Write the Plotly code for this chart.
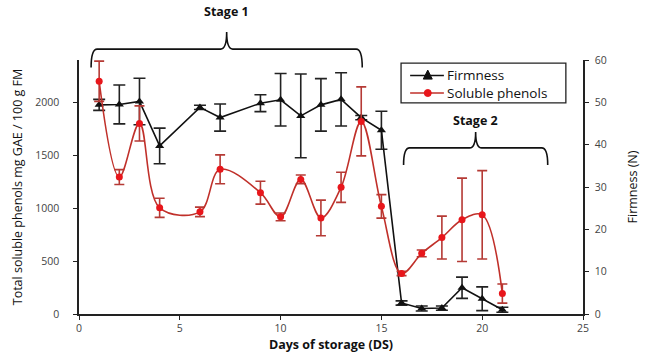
import plotly.graph_objects as go

days = [1, 2, 3, 4, 6, 7, 9, 10, 11, 12, 13, 14, 15, 16, 17, 18, 19, 20, 21]
firmness = [49.4, 49.5, 50.2, 39.7, 48.8, 46.4, 49.8, 50.6, 46.8, 49.4, 50.7, 46.4, 43.4, 2.6, 1.3, 1.4, 6.2, 3.6, 1.0]
firmness_err = [1.3, 4.6, 5.5, 4.2, 0.5, 3.2, 2.0, 6.2, 9.9, 6.2, 6.3, 0.5, 4.5, 0.5, 0.6, 0.5, 2.5, 2.8, 0.6]
phenols = [2199, 1294, 1801, 1003, 965, 1367, 1146, 918, 1272, 908, 1197, 1820, 1017, 383, 573, 722, 890, 937, 193]
phenols_err = [190, 70, 166, 90, 45, 137, 108, 37, 41, 168, 142, 326, 111, 20, 32, 203, 394, 418, 90]

x_ticks = [0, 5, 10, 15, 20, 25]
left_ticks = [0, 500, 1000, 1500, 2000]
right_ticks = [0, 10, 20, 30, 40, 50, 60]

series_names = ["Firmness", "Soluble phenols"]
stages = ["Stage 1", "Stage 2"]
stage_start = [0.6, 16.1]
stage_end = [14.05, 23.25]
# (arm bottom, bar, tip, label centre) in paper fractions
stage_levels = [(0.97, 1.043, 1.11, 1.19), (0.587, 0.654, 0.717, 0.762)]

FONT = "Open Sans"
BLACK = "#111111"
RED_LINE = "#c0302a"
RED_MARK = "#e8161b"

fig = go.Figure()
fig.add_trace(go.Scatter(
    x=days, y=firmness, name=series_names[0], yaxis="y",
    mode="lines+markers",
    line=dict(color=BLACK, width=1.6),
    marker=dict(symbol="triangle-up", size=8, color=BLACK),
    error_y=dict(type="data", array=firmness_err, color="#222222", thickness=1.6, width=6),
))
fig.add_trace(go.Scatter(
    x=days, y=phenols, name=series_names[1], yaxis="y2",
    mode="lines+markers",
    line=dict(color=RED_LINE, width=1.6, shape="spline", smoothing=1.0),
    marker=dict(symbol="circle", size=7, color=RED_MARK),
    error_y=dict(type="data", array=phenols_err, color="#b53a35", thickness=1.6, width=5),
))

shapes = []
annotations = []
for name, x0, x1, (yl, yt, yp, ytxt) in zip(stages, stage_start, stage_end, stage_levels):
    xc = (x0 + x1) / 2
    dx = 0.3
    path = (f"M {x0},{yl} Q {x0},{yt} {x0+dx},{yt} L {xc-dx},{yt} "
            f"Q {xc},{yt} {xc},{yp} Q {xc},{yt} {xc+dx},{yt} "
            f"L {x1-dx},{yt} Q {x1},{yt} {x1},{yl}")
    shapes.append(dict(type="path", xref="x", yref="paper", path=path,
                       line=dict(color=BLACK, width=1.6)))
    annotations.append(dict(x=xc, y=ytxt, xref="x", yref="paper", text=f"<b>{name}</b>",
                            showarrow=False, yanchor="middle",
                            font=dict(family=FONT, size=12.5, color=BLACK)))

# custom legend (compact, like the reference)
PW, PH = 504.0, 254.0  # plot area size in px
shapes.append(dict(type="rect", xref="paper", yref="paper", x0=0.639, x1=0.966, y0=0.831, y1=0.988,
                   line=dict(color="#222222", width=1.3), fillcolor="white", layer="above"))
leg_rows = [0.939, 0.870]
lx0, lx1, mx, tx = 0.657, 0.724, 0.692, 0.729
# row 1: firmness
shapes.append(dict(type="line", xref="paper", yref="paper", x0=lx0, x1=lx1, y0=leg_rows[0], y1=leg_rows[0],
                   line=dict(color=BLACK, width=1.6), layer="above"))
hw, hh = 4.5 / PW, 4.5 / PH
shapes.append(dict(type="path", xref="paper", yref="paper", layer="above",
                   path=f"M {mx-hw},{leg_rows[0]-hh*0.8} L {mx+hw},{leg_rows[0]-hh*0.8} L {mx},{leg_rows[0]+hh*1.2} Z",
                   line=dict(color=BLACK, width=1), fillcolor=BLACK))
# row 2: phenols
shapes.append(dict(type="line", xref="paper", yref="paper", x0=lx0, x1=lx1, y0=leg_rows[1], y1=leg_rows[1],
                   line=dict(color=RED_LINE, width=1.6), layer="above"))
r = 3.5
shapes.append(dict(type="circle", xref="paper", yref="paper", layer="above",
                   x0=mx - r / PW, x1=mx + r / PW, y0=leg_rows[1] - r / PH, y1=leg_rows[1] + r / PH,
                   line=dict(color=RED_MARK, width=1), fillcolor=RED_MARK))
for name, yy in zip(series_names, leg_rows):
    annotations.append(dict(x=tx, y=yy, xref="paper", yref="paper", text=name, showarrow=False,
                            xanchor="left", yanchor="middle", borderpad=0,
                            font=dict(family=FONT, size=13.5, color=BLACK)))

fig.update_layout(
    width=649, height=360,
    margin=dict(l=79, r=66, t=60, b=46),
    paper_bgcolor="white", plot_bgcolor="white",
    font=dict(family=FONT, size=11, color="#222222"),
    showlegend=False,
    xaxis=dict(range=[0, 25], tickvals=x_ticks, showgrid=False, zeroline=False, automargin=False,
               showline=True, linecolor="#222222", linewidth=1.5,
               ticks="outside", ticklen=4, tickcolor="#222222",
               tickfont=dict(size=10.5, color="#444444"),
               title=dict(text="<b>Days of storage (DS)</b>", font=dict(size=12.5, color=BLACK), standoff=6)),
    yaxis=dict(range=[0, 60], tickvals=right_ticks, side="right", anchor="x", automargin=False,
               showgrid=False, zeroline=False, showline=True, linecolor="#222222", linewidth=1.5,
               ticks="outside", ticklen=4, tickcolor="#222222", ticklabelstandoff=4,
               tickfont=dict(size=10.5, color="#444444"),
               title=dict(text="Firmness (N)", font=dict(size=12.5, color=BLACK), standoff=22)),
    yaxis2=dict(range=[0, 2400], tickvals=left_ticks, side="left", overlaying="y", anchor="x", automargin=False,
                showgrid=False, zeroline=False, showline=True, linecolor="#222222", linewidth=1.5,
                ticks="outside", ticklen=4, tickcolor="#222222", ticklabelstandoff=12,
                tickfont=dict(size=10.5, color="#444444"),
                title=dict(text="Total soluble phenols mg GAE / 100 g FM", font=dict(size=12.5, color=BLACK), standoff=10)),
    shapes=shapes, annotations=annotations,
)

fig.write_html("out.html", post_script="document.body.style.margin='0px';",
               config={"displayModeBar": False})
